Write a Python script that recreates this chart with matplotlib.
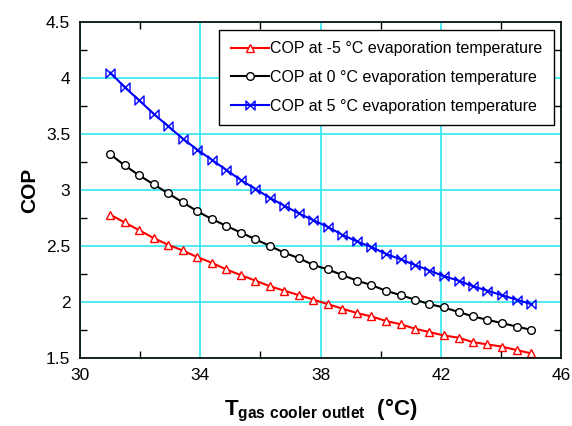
import matplotlib
matplotlib.use("Agg")
import matplotlib.pyplot as plt
from matplotlib.path import Path

plt.rcParams["font.family"] = ["Liberation Sans", "DejaVu Sans"]
plt.rcParams["mathtext.fontset"] = "custom"
plt.rcParams["mathtext.rm"] = "Liberation Sans"
plt.rcParams["mathtext.bf"] = "Liberation Sans:bold"

# gas cooler outlet temperature (30 evenly spaced points, 31..45 C)
T_OUT = [31.00, 31.48, 31.97, 32.45, 32.93, 33.41, 33.90, 34.38, 34.86, 35.34,
         35.83, 36.31, 36.79, 37.28, 37.76, 38.24, 38.72, 39.21, 39.69, 40.17,
         40.66, 41.14, 41.62, 42.10, 42.59, 43.07, 43.55, 44.03, 44.52, 45.00]

COP_M5 = [2.78, 2.71, 2.64, 2.57, 2.51, 2.46, 2.40, 2.35, 2.29, 2.24,
          2.19, 2.14, 2.10, 2.06, 2.02, 1.98, 1.94, 1.90, 1.87, 1.83,
          1.80, 1.76, 1.73, 1.70, 1.68, 1.64, 1.62, 1.60, 1.57, 1.54]
COP_0 = [3.32, 3.22, 3.13, 3.05, 2.97, 2.89, 2.81, 2.74, 2.68, 2.62,
         2.56, 2.50, 2.44, 2.39, 2.33, 2.29, 2.24, 2.19, 2.15, 2.10,
         2.06, 2.02, 1.98, 1.95, 1.91, 1.87, 1.84, 1.81, 1.78, 1.75]
COP_5 = [4.05, 3.92, 3.80, 3.68, 3.57, 3.46, 3.36, 3.27, 3.18, 3.09,
         3.01, 2.93, 2.86, 2.79, 2.73, 2.67, 2.60, 2.54, 2.49, 2.43,
         2.38, 2.33, 2.28, 2.23, 2.19, 2.14, 2.10, 2.06, 2.02, 1.98]

LABELS = ["COP at -5 °C evaporation temperature",
          "COP at 0 °C evaporation temperature",
          "COP at 5 °C evaporation temperature"]

X_TICKS = [30, 34, 38, 42, 46]
X_MINOR = [32, 36, 40, 44]
Y_TICKS = [1.5, 2, 2.5, 3, 3.5, 4, 4.5]
Y_TICKLABELS = ["1.5", "2", "2.5", "3", "3.5", "4", "4.5"]
Y_MINOR = [1.75, 2.25, 2.75, 3.25, 3.75, 4.25]

# bowtie marker
bowtie = Path([(-1, 1), (-1, -1), (1, 1), (1, -1), (-1, 1)],
              [Path.MOVETO, Path.LINETO, Path.LINETO, Path.LINETO, Path.CLOSEPOLY])

fig = plt.figure(figsize=(5.72, 4.26), dpi=100)
ax = fig.add_axes([0.14, 0.16, 0.841, 0.788])

ax.plot(T_OUT, COP_M5, color="red", lw=1.5, marker="^", ms=6,
        mfc="white", mec="red", mew=1, label=LABELS[0])
ax.plot(T_OUT, COP_0, color="black", lw=1.5, marker="o", ms=5.5,
        mfc="white", mec="black", mew=1, label=LABELS[1])
ax.plot(T_OUT, COP_5, color="blue", lw=1.5, marker=bowtie, ms=6.5,
        mfc="none", mec="blue", mew=1, label=LABELS[2])

ax.set_xlim(30, 46)
ax.set_ylim(1.5, 4.5)
ax.set_xticks(X_TICKS)
ax.set_xticks(X_MINOR, minor=True)
ax.set_yticks(Y_TICKS)
ax.set_yticklabels(Y_TICKLABELS)
ax.set_yticks(Y_MINOR, minor=True)
ax.grid(True, which="major", color="#2ee8f0", lw=1.2)
ax.set_axisbelow(True)
ax.tick_params(which="both", direction="in", top=True, right=True,
               labelsize=12.5, pad=7)
ax.tick_params(which="major", length=0)
ax.tick_params(which="minor", length=5, width=1)
for s in ax.spines.values():
    s.set_linewidth(1.2)

ax.set_ylabel("COP", fontsize=15, fontweight="bold", labelpad=5)
ax.set_xlabel(r"$\mathbf{T_{gas\ cooler\ outlet}}$  (°C)", fontsize=16,
              fontweight="bold", labelpad=10)

leg = ax.legend(loc="upper right", bbox_to_anchor=(0.985, 0.976),
                borderaxespad=0, fontsize=11.5, handlelength=2.4,
                handletextpad=0.1, fancybox=False, framealpha=1,
                edgecolor="black", borderpad=0.7, labelspacing=0.85)
leg.get_frame().set_linewidth(1)

fig.savefig("out.png", dpi=100)
